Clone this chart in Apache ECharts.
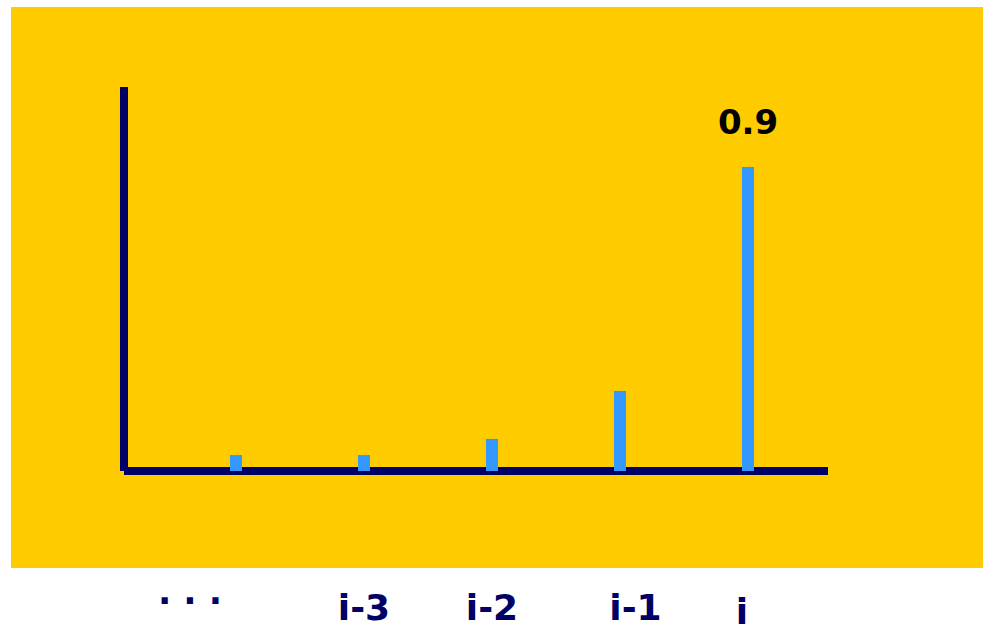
<!DOCTYPE html>
<html>
<head>
<meta charset="utf-8">
<script src="https://cdn.jsdelivr.net/npm/echarts@6/dist/echarts.min.js"></script>
<style>
  html, body { margin: 0; padding: 0; background: #ffffff; width: 983px; height: 634px; overflow: hidden; }
  #bg { position: absolute; left: 11px; top: 7px; width: 972px; height: 561px; background: #FFCC00; }
  #chart { position: absolute; left: 0; top: 0; width: 983px; height: 634px; }
</style>
</head>
<body>
<div id="bg"></div>
<div id="chart"></div>
<script>
// ---- data ----
const categories = ['. . .', 'i-3', 'i-2', 'i-1', 'i'];
const values = [0.047, 0.047, 0.095, 0.237, 0.9];
const labelledIndex = 4;

// ---- styles ----
const NAVY = '#000066';
const BAR = '#3399FF';
const FONT = '"DejaVu Sans", Verdana, sans-serif';
const labelPads = [
  [0, 92, 0, 0],
  [31, 0, 0, 0],
  [31, 0, 0, 0],
  [31, 0, 0, 31],
  [38, 12, 0, 0]
];
const labelSizes = [35, 36, 36, 36, 36];

const chart = echarts.init(document.getElementById('chart'), null, { renderer: 'svg' });

const rich = {};
labelPads.forEach((p, i) => {
  rich['c' + i] = {
    fontFamily: FONT, fontWeight: 'bold', fontSize: labelSizes[i], color: NAVY,
    lineHeight: labelSizes[i], padding: p
  };
});

const positions = categories.map((c, i) => i + 1);
const barData = values.map((v, i) => {
  const item = { value: [positions[i], v] };
  if (i === labelledIndex) {
    item.label = {
      show: true, position: 'top', distance: 28,
      fontFamily: FONT, fontWeight: 'bold', fontSize: 34, color: '#000000',
      formatter: (p) => String(p.value[1])
    };
  }
  return item;
});

chart.setOption({
  backgroundColor: 'transparent',
  animation: false,
  grid: { left: 124, right: 155, top: 87, bottom: 163 },
  xAxis: {
    type: 'value',
    min: 0.125,
    max: 5.625,
    axisLine: { show: true, onZero: false, lineStyle: { color: NAVY, width: 8, cap: 'butt' } },
    axisTick: { show: false },
    splitLine: { show: false },
    axisLabel: {
      customValues: positions,
      margin: 103,
      formatter: (v) => {
        const i = Math.round(v) - 1;
        return '{c' + i + '|' + categories[i] + '}';
      },
      rich: rich
    }
  },
  yAxis: {
    type: 'value',
    min: 0,
    max: 1.1368,
    axisLine: { show: true, lineStyle: { color: NAVY, width: 8, cap: 'butt' } },
    axisTick: { show: false },
    axisLabel: { show: false },
    splitLine: { show: false }
  },
  series: [{
    type: 'bar',
    data: barData,
    barWidth: 12,
    itemStyle: { color: BAR },
    z: 5
  }]
});
</script>
</body>
</html>
